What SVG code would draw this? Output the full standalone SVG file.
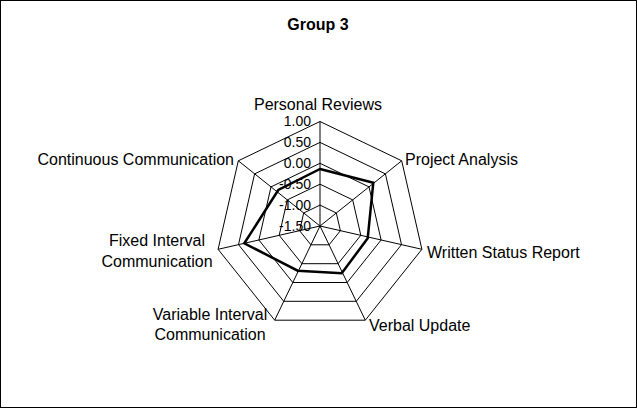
<svg xmlns="http://www.w3.org/2000/svg" width="637" height="408" viewBox="0 0 637 408">
<style>
text{font-family:"Liberation Sans",Arial,sans-serif;font-size:16px;fill:#000}
.ring{fill:none;stroke:#000;stroke-width:1}
.ax{stroke:#000;stroke-width:1}
.t{text-anchor:end;font-size:14px}
</style>
<rect x="0.5" y="0.5" width="636" height="407" fill="#fff" stroke="#000"/>
<text x="318" y="30" text-anchor="middle" font-weight="bold">Group 3</text>
<g id="grid">
<polygon class="ring" points="320,121.5 401.7,160.8 421.9,249.3 365.3,320.2 274.7,320.2 218.1,249.3 238.3,160.8"/>
<polygon class="ring" points="320,142.4 385.4,173.9 401.5,244.6 356.3,301.3 283.7,301.3 238.5,244.6 254.6,173.9"/>
<polygon class="ring" points="320,163.3 369,186.9 381.1,240 347.2,282.5 292.8,282.5 258.9,240 271,186.9"/>
<polygon class="ring" points="320,184.2 352.7,199.9 360.8,235.3 338.1,263.7 301.9,263.7 279.2,235.3 287.3,199.9"/>
<polygon class="ring" points="320,205.1 336.3,213 340.4,230.7 329.1,244.8 310.9,244.8 299.6,230.7 303.7,213"/>
</g>
<g id="connectors">
<line class="ax" x1="320" y1="226" x2="320" y2="121.5"/>
<line class="ax" x1="320" y1="226" x2="401.7" y2="160.8"/>
<line class="ax" x1="320" y1="226" x2="421.9" y2="249.3"/>
<line class="ax" x1="320" y1="226" x2="365.3" y2="320.2"/>
<line class="ax" x1="320" y1="226" x2="274.7" y2="320.2"/>
<line class="ax" x1="320" y1="226" x2="218.1" y2="249.3"/>
<line class="ax" x1="320" y1="226" x2="238.3" y2="160.8"/>
</g>
<g id="series">
<polygon points="320,169 373.3,182.7 367.7,238.3 341.7,273.3 297.7,270.7 244.3,243.3 278.3,190" fill="none" stroke="#000" stroke-width="2.5"/>
</g>
<g id="ticks">
<text class="t" x="311" y="126">1.00</text>
<text class="t" x="311" y="147">0.50</text>
<text class="t" x="311" y="168">0.00</text>
<text class="t" x="311" y="189">-0.50</text>
<text class="t" x="311" y="210">-1.00</text>
<text class="t" x="311" y="231">-1.50</text>
</g>
<g id="labels">
<text x="318" y="110" text-anchor="middle">Personal Reviews</text>
<text x="405" y="165">Project Analysis</text>
<text x="427" y="258">Written Status Report</text>
<text x="369" y="331">Verbal Update</text>
<text x="210" y="320" text-anchor="middle">Variable Interval</text>
<text x="210" y="340" text-anchor="middle">Communication</text>
<text x="157" y="246" text-anchor="middle">Fixed Interval</text>
<text x="157" y="267" text-anchor="middle">Communication</text>
<text x="234" y="165" text-anchor="end">Continuous Communication</text>
</g>
</svg>
